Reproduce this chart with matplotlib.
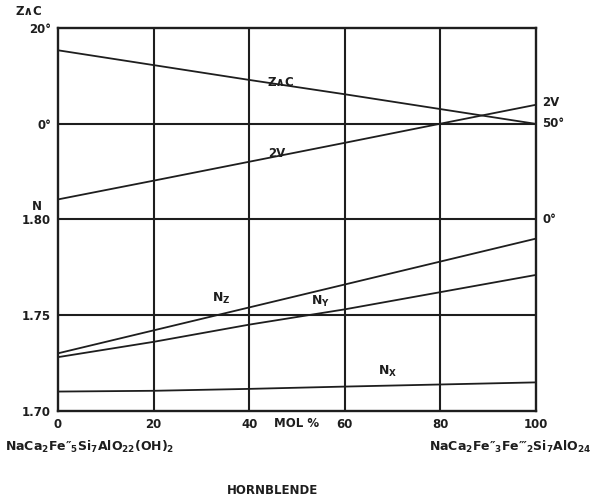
import matplotlib
matplotlib.use('Agg')
import matplotlib.pyplot as plt

plt.rcParams['font.family'] = ['DejaVu Sans']
plt.rcParams['font.weight'] = 'bold'
plt.rcParams['mathtext.fontset'] = 'custom'
plt.rcParams['mathtext.rm'] = 'DejaVu Sans:bold'
plt.rcParams['mathtext.default'] = 'rm'

# mol % of the Fe''' end member
mol = [0, 20, 40, 60, 80, 100]

# refractive indices
nz = [1.730, 1.742, 1.754, 1.766, 1.778, 1.790]
ny = [1.728, 1.736, 1.745, 1.753, 1.762, 1.771]
nx = [1.710, 1.7104, 1.7114, 1.7126, 1.7137, 1.7148]

# extinction angle Z^c and optic angle 2V, degrees
zc = [15.4, 12.3, 9.2, 6.2, 3.1, 0.0]
two_v = [10.5, 20.3, 30.2, 40.1, 50.1, 60.0]

ink = '#1e1e1e'
fs = 8.5

fig = plt.figure(figsize=(5.93, 4.99), dpi=100)
ax = fig.add_axes([0.0978, 0.177, 0.806, 0.7663])
ax.set_xlim(0, 100)
ax.set_ylim(1.70, 1.90)

for s in ax.spines.values():
    s.set_linewidth(1.7)
    s.set_color(ink)
for x in [20, 40, 60, 80]:
    ax.axvline(x, color=ink, lw=1.5)
for y in [1.75, 1.80, 1.85]:
    ax.axhline(y, color=ink, lw=1.5)

ax.plot(mol, nz, color=ink, lw=1.3)
ax.plot(mol, ny, color=ink, lw=1.3)
ax.plot(mol, nx, color=ink, lw=1.3)

# Z^c scale: 0 deg at 1.85, 20 deg at top
ax_zc = ax.twinx()
ax_zc.set_ylim(-60, 20)
ax_zc.plot(mol, zc, color=ink, lw=1.3)
ax_zc.axis('off')

# 2V scale: 0 deg at 1.80, 50 deg at 1.85
ax_2v = ax.twinx()
ax_2v.set_ylim(-100, 100)
ax_2v.plot(mol, two_v, color=ink, lw=1.3)
ax_2v.axis('off')

ax.set_xticks(mol)
ax.set_xticklabels(['0', '20', '40', '60', '80', '100'], fontsize=fs)
ax.set_yticks([1.70, 1.75, 1.80, 1.85, 1.90])
ax.set_yticklabels(['1.70', '1.75', '1.80', '0°', '20°'], fontsize=fs)
ax.tick_params(length=0, pad=5, colors=ink)

ax.text(50, -0.033, 'MOL %', transform=ax.get_xaxis_transform(),
        ha='center', va='center', fontsize=fs, color=ink)

ax.text(-0.06, 1.045, 'Z∧C', transform=ax.transAxes, ha='center', va='center',
        fontsize=fs, color=ink)
ax.text(-0.045, 1.807, 'N', transform=ax.get_yaxis_transform(), ha='center', va='center',
        fontsize=fs, color=ink)

yt = ax.get_yaxis_transform()
ax.text(1.013, 1.80, '0°', transform=yt, ha='left', va='center', fontsize=fs, color=ink)
ax.text(1.013, 1.85, '50°', transform=yt, ha='left', va='center', fontsize=fs, color=ink)
ax.text(1.013, 1.861, '2V', transform=yt, ha='left', va='center', fontsize=fs, color=ink)

# curve labels
ax.text(46.7, 1.8719, 'Z∧C', ha='center', va='center', fontsize=8.5, color=ink)
ax.text(45.8, 1.8345, '2V', ha='center', va='center', fontsize=8.5, color=ink)
ax.text(34.1, 1.7586, r'$\mathrm{N_Z}$', ha='center', va='center', fontsize=9, color=ink)
ax.text(55.0, 1.757, r'$\mathrm{N_Y}$', ha='center', va='center', fontsize=9, color=ink)
ax.text(69.0, 1.7206, r'$\mathrm{N_X}$', ha='center', va='center', fontsize=9, color=ink)

fig.text(0.008, 0.105, 'NaCa$_2$Fe″$_5$Si$_7$AlO$_{22}$(OH)$_2$',
         ha='left', va='center', fontsize=9, color=ink)
fig.text(0.997, 0.105, 'NaCa$_2$Fe″$_3$Fe‴$_2$Si$_7$AlO$_{24}$',
         ha='right', va='center', fontsize=9, color=ink)
fig.text(0.46, 0.018, 'HORNBLENDE', ha='center', va='center', fontsize=fs, color=ink)

fig.savefig('out.png', dpi=100)
